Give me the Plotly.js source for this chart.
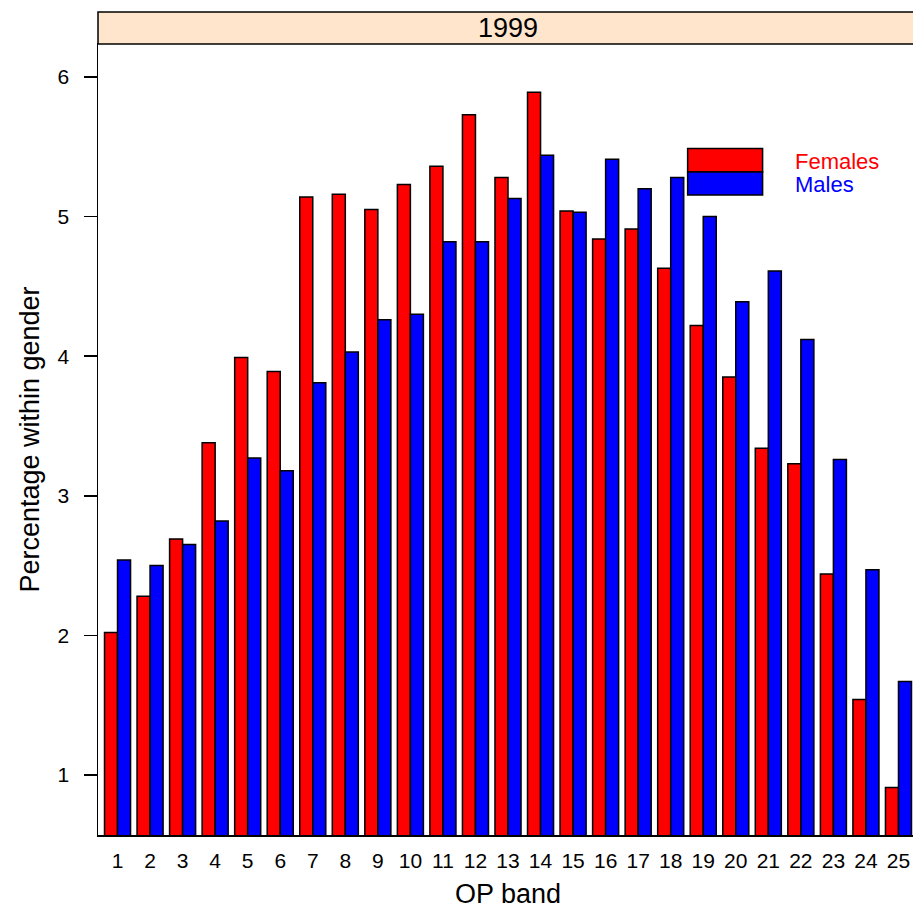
<!DOCTYPE html>
<html>
<head>
<meta charset="utf-8">
<script src="https://cdn.plot.ly/plotly-3.0.1.min.js"></script>
<style>
html, body { margin: 0; padding: 0; overflow: hidden; background: #fff; }
#chart { width: 925px; height: 909px; }
</style>
</head>
<body>
<div id="chart"></div>
<script>
const bands = [1,2,3,4,5,6,7,8,9,10,11,12,13,14,15,16,17,18,19,20,21,22,23,24,25];
const females = [2.02,2.28,2.69,3.38,3.99,3.89,5.14,5.16,5.05,5.23,5.36,5.73,5.28,5.89,5.04,4.84,4.91,4.63,4.22,3.85,3.34,3.23,2.44,1.54,0.91];
const males = [2.54,2.50,2.65,2.82,3.27,3.18,3.81,4.03,4.26,4.30,4.82,4.82,5.13,5.44,5.03,5.41,5.20,5.28,5.00,4.39,4.61,4.12,3.26,2.47,1.67];
const stripLabel = "1999";
const seriesNames = ["Females", "Males"];
const yTicks = [1,2,3,4,5,6];

const FONT = "Liberation Sans, Arial, Helvetica, sans-serif";

const traces = [
  { type: "bar", name: seriesNames[0], x: bands, y: females,
    marker: { color: "#ff0000", line: { color: "#000", width: 1.5 } } },
  { type: "bar", name: seriesNames[1], x: bands, y: males,
    marker: { color: "#0000ff", line: { color: "#000", width: 1.5 } } }
];

const plotH = 791;
const stripH = 32 / plotH;
const pxX = p => (p - 98) / 820.5;
const pxY = p => (835 - p) / plotH;

const layout = {
  width: 925, height: 909,
  margin: { l: 98, r: 6.5, t: 44, b: 74 },
  paper_bgcolor: "#fff", plot_bgcolor: "#fff",
  font: { family: FONT, size: 21, color: "#000" },
  showlegend: false,
  barmode: "group", bargap: 0.2, bargroupgap: 0,
  xaxis: {
    range: [0.4, 25.6], tickmode: "array", tickvals: bands, ticktext: bands.map(String),
    ticks: "", showline: true, linecolor: "#000", linewidth: 1.5, mirror: true,
    showgrid: false, zeroline: false, ticklabelstandoff: 6,
    tickfont: { size: 21 },
    title: { text: "OP band", font: { size: 27 }, standoff: 13 }
  },
  yaxis: {
    range: [0.57, 6.236], tickmode: "array", tickvals: yTicks,
    ticks: "outside", ticklen: 13, tickcolor: "#000", tickwidth: 1.5,
    showline: true, linecolor: "#000", linewidth: 1.5, mirror: true,
    showgrid: false, zeroline: false, ticklabelstandoff: 10,
    tickfont: { size: 21 },
    title: { text: "Percentage within gender", font: { size: 27 }, standoff: 10 }
  },
  shapes: [
    { type: "rect", xref: "paper", yref: "paper", x0: 0, x1: 1, y0: 1, y1: 1 + stripH,
      fillcolor: "#ffe5cc", line: { color: "#000", width: 1.5 } },
    { type: "rect", xref: "paper", yref: "paper", x0: pxX(688), x1: pxX(763), y0: pxY(172), y1: pxY(148.5),
      fillcolor: "#ff0000", line: { color: "#000", width: 1.5 } },
    { type: "rect", xref: "paper", yref: "paper", x0: pxX(688), x1: pxX(763), y0: pxY(195), y1: pxY(172),
      fillcolor: "#0000ff", line: { color: "#000", width: 1.5 } }
  ],
  annotations: [
    { xref: "paper", yref: "paper", x: pxX(508), y: 1 + stripH / 2, text: stripLabel, showarrow: false,
      xanchor: "center", yanchor: "middle", font: { size: 27, color: "#000" } },
    { xref: "paper", yref: "paper", x: pxX(793), y: pxY(161), text: seriesNames[0], showarrow: false,
      xanchor: "left", yanchor: "middle", font: { size: 22, color: "#ff0000" } },
    { xref: "paper", yref: "paper", x: pxX(793), y: pxY(184), text: seriesNames[1], showarrow: false,
      xanchor: "left", yanchor: "middle", font: { size: 22, color: "#0000ff" } }
  ]
};

Plotly.newPlot("chart", traces, layout, { displayModeBar: false, staticPlot: true });
</script>
</body>
</html>
